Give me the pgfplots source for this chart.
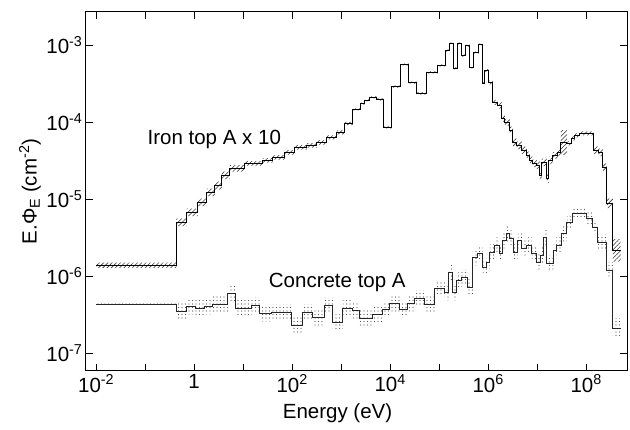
\documentclass[border=0pt]{standalone}
\usepackage{fontspec}
\setmainfont{Liberation Sans}
\usepackage{pgfplots}
\pgfplotsset{compat=1.18}
\usepackage{pgfplotstable}
\usepgfplotslibrary{fillbetween}
\usetikzlibrary{patterns,patterns.meta}

% Iron top A x 10: left bin edge E (eV), value, relative error
\pgfplotstableread{
E v err
0.01 1.39e-6 0.08
0.432 5.01e-6 0.12
0.706 6.76e-6 0.12
1.18 9.12e-6 0.12
1.81 1.23e-5 0.12
2.63 1.51e-5 0.12
3.66 2.04e-5 0.12
5.33 2.52e-5 0.10
10.8 2.92e-5 0.07
25.1 3.20e-5 0.07
40.2 3.49e-5 0.07
70.6 4.06e-5 0.07
113 4.71e-5 0.07
199 5.00e-5 0.07
318 5.47e-5 0.07
508 6.35e-5 0.06
813 7.38e-5 0.06
1183 9.64e-5 0.05
1726 1.47e-4 0.03
2512 1.75e-4 0.03
3034 1.92e-4 0.03
3837 2.10e-4 0.03
5333 1.98e-4 0.03
7396 8.57e-5 0.03
10790 2.91e-4 0.03
16440 5.62e-4 0.03
23990 3.28e-4 0.03
34910 2.37e-4 0.03
55850 4.43e-4 0.03
93540 5.46e-4 0.03
1.365e5 8.53e-4 0.03
1.644e5 1.05e-3 0.03
1.986e5 4.99e-4 0.03
2.399e5 1.05e-3 0.03
2.891e5 7.34e-4 0.03
3.491e5 9.91e-4 0.03
4.207e5 5.14e-4 0.03
5.08e5 8.04e-4 0.03
6.43e5 1.02e-3 0.03
7.76e5 3.18e-4 0.04
8.53e5 4.70e-4 0.04
1.028e6 3.28e-4 0.06
1.242e6 1.81e-4 0.08
1.570e6 1.65e-4 0.1
1.897e6 1.12e-4 0.1
2.183e6 9.93e-5 0.1
2.761e6 7.84e-5 0.12
3.177e6 5.47e-5 0.12
3.837e6 5.00e-5 0.12
4.853e6 4.31e-5 0.12
6.138e6 3.71e-5 0.12
7.063e6 3.20e-5 0.12
8.128e6 2.92e-5 0.12
9.82e6 2.75e-5 0.12
1.13e7 2.04e-5 0.15
1.242e7 3.01e-5 0.12
1.570e7 1.87e-5 0.15
1.726e7 3.20e-5 0.12
2.080e7 3.71e-5 0.1
2.630e7 4.06e-5 0.1
3.034e7 5.47e-5 0.45
4.018e7 5.31e-5 0.06
5.08e7 6.17e-5 0.06
5.85e7 6.75e-5 0.06
7.40e7 7.16e-5 0.06
1.079e8 7.16e-5 0.06
1.429e8 4.31e-5 0.12
1.807e8 4.06e-5 0.12
2.183e8 2.59e-5 0.12
2.630e8 8.85e-6 0.15
3.49e8 2.17e-6 0.4
5.08e8 2.17e-6 0.4
}\iron

% Concrete top A
\pgfplotstableread{
E v err
0.01 4.34e-7 0.03
0.432 3.52e-7 0.27
0.706 4.08e-7 0.27
1.08 3.85e-7 0.27
1.65 4.08e-7 0.27
2.40 4.34e-7 0.27
4.85 6.02e-7 0.27
7.06 3.85e-7 0.27
15.0 4.21e-7 0.27
21.8 3.31e-7 0.27
38.4 3.41e-7 0.27
98.2 2.31e-7 0.27
164 3.41e-7 0.27
263 2.94e-7 0.27
463 4.21e-7 0.27
674 2.53e-7 0.27
1079 3.85e-7 0.27
1726 3.62e-7 0.27
2399 2.85e-7 0.27
4416 3.21e-7 0.27
7063 3.73e-7 0.27
9817 4.46e-7 0.27
15700 3.73e-7 0.27
22860 4.46e-7 0.27
31770 5.19e-7 0.27
50820 4.34e-7 0.27
81280 6.98e-7 0.27
1.30e5 6.20e-7 0.27
1.570e5 1.13e-6 0.27
1.897e5 6.20e-7 0.27
2.286e5 8.87e-7 0.27
2.891e5 9.70e-7 0.27
3.837e5 7.20e-7 0.27
4.853e5 1.76e-6 0.27
6.138e5 1.99e-6 0.27
7.76e5 1.31e-6 0.27
9.35e5 1.52e-6 0.27
1.079e6 2.05e-6 0.27
1.365e6 2.52e-6 0.27
1.726e6 1.99e-6 0.27
1.986e6 2.93e-6 0.27
2.399e6 3.61e-6 0.27
2.761e6 3.11e-6 0.27
3.327e6 2.05e-6 0.27
4.018e6 2.93e-6 0.27
4.853e6 2.31e-6 0.27
6.138e6 2.52e-6 0.27
7.76e6 1.99e-6 0.27
9.82e6 1.52e-6 0.27
1.183e7 1.87e-6 0.27
1.365e7 3.21e-6 0.27
1.570e7 1.47e-6 0.27
2.143e7 2.17e-6 0.27
2.466e7 2.52e-6 0.27
3.119e7 3.61e-6 0.27
4.018e7 5.01e-6 0.2
5.333e7 6.56e-6 0.2
1.028e8 5.65e-6 0.2
1.365e8 4.32e-6 0.2
1.726e8 2.76e-6 0.27
2.630e8 1.20e-6 0.27
3.49e8 2.12e-7 0.35
5.08e8 2.12e-7 0.35
}\concrete

\begin{document}
\begin{tikzpicture}
\begin{axis}[
  at={(0pt,0pt)}, anchor=south west,
  scale only axis, width=541pt, height=359pt,
  xmode=log, ymode=log,
  xmin=0.0062, xmax=6.8e8, ymin=5.9e-8, ymax=2.7e-3,
  xtick={1e-2,1e-1,1,10,100,1e3,1e4,1e5,1e6,1e7,1e8},
  xticklabels={10\textsuperscript{-2},,1,,10\textsuperscript{2},,10\textsuperscript{4},,10\textsuperscript{6},,10\textsuperscript{8}},
  ytick={1e-7,1e-6,1e-5,1e-4,1e-3},
  yticklabels={10\textsuperscript{-7},10\textsuperscript{-6},10\textsuperscript{-5},10\textsuperscript{-4},10\textsuperscript{-3}},
  minor tick length=0pt,
  major tick length=7pt,
  tick align=inside,
  axis line style={line width=1pt},
  every tick/.style={black, line width=0.9pt},
  tick label style={font=\fontsize{20.5}{24}\selectfont},
  label style={font=\fontsize{20.5}{24}\selectfont},
  xlabel={Energy (eV)},
  ylabel={E.Φ\textsubscript{E} (cm\textsuperscript{-2})},
  xlabel style={at={(axis description cs:0.465,-0.117)}, anchor=center},
  ylabel style={at={(axis description cs:-0.1035,0.5)}, anchor=center},
  clip=false,
]
% Iron error band
\addplot [name path=ihi, draw=none, const plot mark left, forget plot]
  table [x=E, y expr=\thisrow{v}*(1+\thisrow{err})] {\iron};
\addplot [name path=ilo, draw=none, const plot mark left, forget plot]
  table [x=E, y expr=\thisrow{v}/(1+\thisrow{err})] {\iron};
\addplot [pattern={Lines[angle=45, distance=3pt, line width=0.6pt]}, pattern color=black!80, draw=none, forget plot]
  fill between [of=ihi and ilo];
% Concrete error band
\addplot [name path=chi, draw=none, const plot mark left, forget plot]
  table [x=E, y expr=\thisrow{v}*(1+\thisrow{err})] {\concrete};
\addplot [name path=clo, draw=none, const plot mark left, forget plot]
  table [x=E, y expr=\thisrow{v}/(1+\thisrow{err})] {\concrete};
\addplot [pattern={Dots[distance=3.5pt, radius=0.55pt]}, pattern color=black!65, draw=none, forget plot]
  fill between [of=chi and clo];
% Central lines
\addplot [black, line width=1.1pt, const plot mark left] table [x=E, y=v] {\iron};
\addplot [black!85, line width=1pt, const plot mark left] table [x=E, y=v] {\concrete};
\node [font=\fontsize{20.5}{24}\selectfont] at (axis cs:2.57,5.98e-5) {Iron top A x 10};
\node [font=\fontsize{20.5}{24}\selectfont] at (axis cs:832,8.35e-7) {Concrete top A};
\end{axis}
\pgfresetboundingbox
\useasboundingbox (-86pt,-59pt) rectangle (544pt,371pt);
\end{tikzpicture}
\end{document}
